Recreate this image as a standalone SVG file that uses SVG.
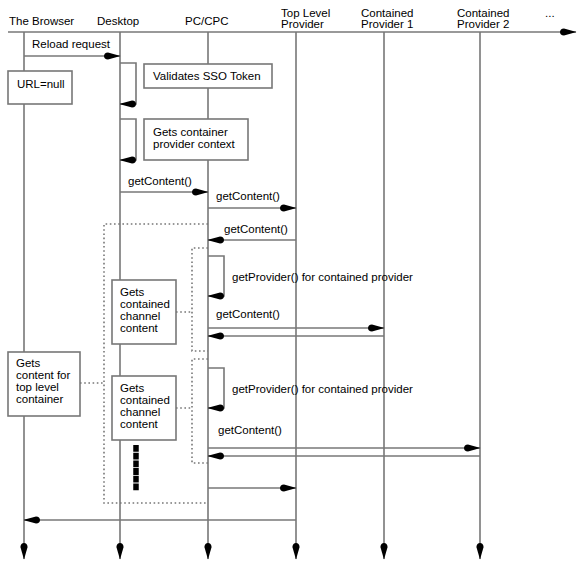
<svg xmlns="http://www.w3.org/2000/svg" width="584" height="568" viewBox="0 0 584 568">
<style>
text{font-family:"Liberation Sans",Arial,Helvetica,sans-serif;font-size:11.5px;fill:#000}
.msg{stroke:#777;stroke-width:1.6;fill:none;marker-end:url(#ah)}
.box{fill:#fff;stroke:#777;stroke-width:1.6}
.dot{stroke:#777;stroke-width:1.6;fill:none;stroke-dasharray:1.6 2.6}
</style>
<defs>
<marker id="ah" viewBox="0 0 18 8" refX="17.5" refY="4" markerWidth="18" markerHeight="8" markerUnits="userSpaceOnUse" orient="auto">
<path d="M18,4 L5.5,0.4 Q1.5,0.8 1.5,4 Q1.5,7.2 5.5,7.6 Z" fill="#000"/>
</marker>
</defs>
<rect width="584" height="568" fill="#fff"/>

<g id="lifelines">
<path class="msg" d="M8,32 H576"/>
<path class="msg" d="M24,32 V559"/>
<path class="msg" d="M120,32 V559"/>
<path class="msg" d="M208,32 V559"/>
<path class="msg" d="M296,32 V559"/>
<path class="msg" d="M384,32 V559"/>
<path class="msg" d="M480,32 V559"/>
</g>

<g id="headers">
<text x="9" y="24.5">The Browser</text>
<text x="97" y="24.5">Desktop</text>
<text x="185" y="24.5">PC/CPC</text>
<text x="281" y="16.5">Top Level</text>
<text x="281" y="28">Provider</text>
<text x="361" y="16.5">Contained</text>
<text x="361" y="28">Provider 1</text>
<text x="457" y="16.5">Contained</text>
<text x="457" y="28">Provider 2</text>
<text x="545" y="16.5">...</text>
</g>

<g id="frames">
<path class="dot" d="M208,224 H104 V503 H208"/>
<path class="dot" d="M208,248 H192 V351 H208"/>
<path class="dot" d="M208,359 H192 V463 H208"/>
<path class="dot" d="M176,312 H192"/>
<path class="dot" d="M80,383 H104"/>
<path class="dot" d="M176,408 H192"/>
</g>

<g id="connectors">
<path class="msg" d="M24,56 H120"/>
<text x="32" y="47.5">Reload request</text>
<path class="msg" d="M120,63 H136 V104 H120"/>
<path class="msg" d="M120,119 H136 V160 H120"/>
<path class="msg" d="M120,192 H208"/>
<text x="128" y="185">getContent()</text>
<path class="msg" d="M208,208 H296"/>
<text x="216" y="200">getContent()</text>
<path class="msg" d="M296,240 H208"/>
<text x="224" y="233">getContent()</text>
<path class="msg" d="M208,256 H224 V296 H208"/>
<text x="232" y="281">getProvider() for contained provider</text>
<path class="msg" d="M208,328 H384"/>
<path class="msg" d="M384,336 H208"/>
<text x="216" y="318">getContent()</text>
<path class="msg" d="M208,368 H224 V408 H208"/>
<text x="232" y="393">getProvider() for contained provider</text>
<path class="msg" d="M208,448 H480"/>
<path class="msg" d="M480,456 H208"/>
<text x="218" y="434">getContent()</text>
<path class="msg" d="M208,488 H296"/>
<path class="msg" d="M296,520 H24"/>
<path d="M136,445 V491" stroke="#000" stroke-width="5.5" stroke-dasharray="6.8 0.9" fill="none"/>
</g>

<g id="url-null">
<rect class="box" x="8" y="71" width="64" height="33"/>
<text x="17" y="88">URL=null</text>
</g>
<g id="validates">
<rect class="box" x="144" y="64" width="128" height="24"/>
<text x="153" y="80">Validates SSO Token</text>
</g>
<g id="container-context">
<rect class="box" x="144" y="119" width="104" height="41"/>
<text x="153" y="136">Gets container</text>
<text x="153" y="148">provider context</text>
</g>
<g id="channel-1">
<rect class="box" x="112" y="280" width="64" height="64"/>
<text x="120" y="296">Gets</text>
<text x="120" y="308">contained</text>
<text x="120" y="320">channel</text>
<text x="120" y="331.5">content</text>
</g>
<g id="top-level-content">
<rect class="box" x="8" y="352" width="72" height="64"/>
<text x="16" y="367">Gets</text>
<text x="16" y="379">content for</text>
<text x="16" y="391">top level</text>
<text x="16" y="403">container</text>
</g>
<g id="channel-2">
<rect class="box" x="112" y="376" width="64" height="64"/>
<text x="120" y="392">Gets</text>
<text x="120" y="404">contained</text>
<text x="120" y="416">channel</text>
<text x="120" y="427.5">content</text>
</g>
</svg>
